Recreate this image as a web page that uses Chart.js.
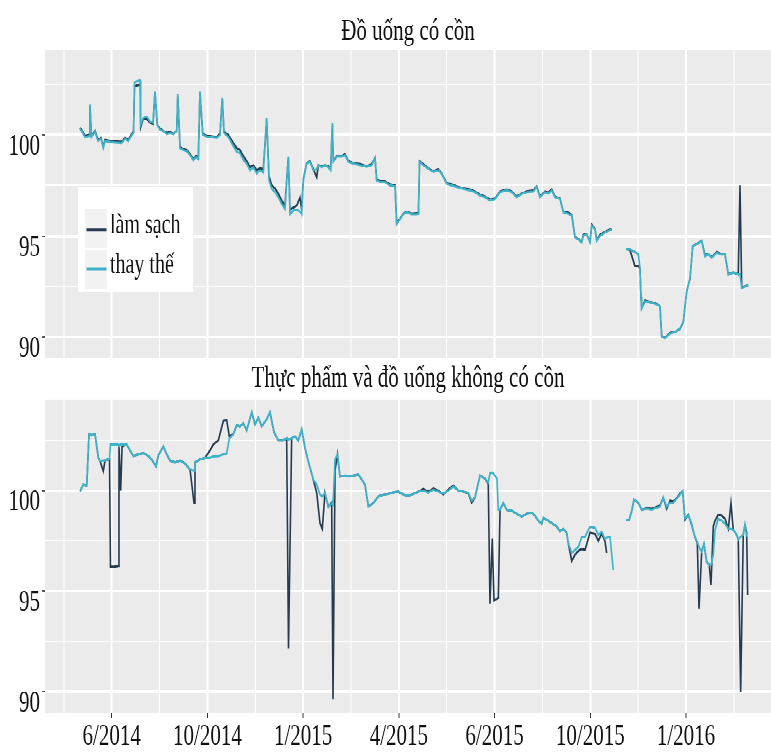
<!DOCTYPE html>
<html><head><meta charset="utf-8">
<script src="https://cdn.jsdelivr.net/npm/chart.js@4.4.1/dist/chart.umd.min.js"></script>
<style>
html,body{margin:0;padding:0;background:#fff;width:771px;height:752px;overflow:hidden;}
#page{position:relative;width:771px;height:752px;overflow:hidden;}
#stage{position:absolute;left:0;top:0;width:771px;height:530px;transform-origin:0 0;}
.panel{position:absolute;left:0;width:771px;}
</style></head><body>
<div id="page"><div id="stage">
  <div class="panel" id="p1" style="top:0;height:254px"><canvas id="c1"></canvas></div>
  <div class="panel" id="p2" style="top:254px;height:276px"><canvas id="c2"></canvas></div>
</div></div>
<script>
// ---------- data ----------
const seriesNames = ['làm sạch', 'thay thế'];
const panelTitles = ['Đồ uống có cồn', 'Thực phẩm và đồ uống không có cồn'];
const xTickLabels = ['6/2014', '10/2014', '1/2015', '4/2015', '6/2015', '10/2015', '1/2016'];
const yTicks = [90, 95, 100];

// x in units of tick intervals (0 = 6/2014, 1 = 10/2014, ...)
const topX = [-0.331,-0.310,-0.279,-0.237,-0.227,-0.211,-0.174,-0.143,-0.112,-0.088,-0.070,-0.018,0.034,0.104,0.139,0.173,0.209,0.228,0.238,0.296,0.303,0.330,0.366,0.400,0.431,0.452,0.476,0.505,0.539,0.575,0.609,0.644,0.679,0.690,0.714,0.748,0.784,0.818,0.852,0.881,0.905,0.922,0.951,0.992,1.027,1.097,1.131,1.155,1.173,1.218,1.270,1.306,1.340,1.375,1.410,1.445,1.479,1.515,1.549,1.584,1.619,1.643,1.672,1.706,1.740,1.776,1.810,1.845,1.863,1.897,1.933,1.967,1.985,2.002,2.037,2.072,2.106,2.142,2.158,2.194,2.228,2.263,2.288,2.305,2.315,2.351,2.403,2.437,2.472,2.524,2.594,2.664,2.716,2.751,2.768,2.803,2.855,2.907,2.960,2.977,3.012,3.046,3.082,3.134,3.186,3.205,3.216,3.255,3.308,3.360,3.412,3.447,3.500,3.552,3.604,3.673,3.743,3.795,3.848,3.900,3.952,4.004,4.057,4.127,4.179,4.231,4.283,4.336,4.405,4.440,4.474,4.527,4.561,4.597,4.631,4.683,4.718,4.770,4.806,4.840,4.875,4.910,4.927,4.962,4.997,5.015,5.049,5.067,5.101,5.153,5.224,5.300,5.373,5.415,5.467,5.501,5.519,5.530,5.537,5.571,5.606,5.658,5.710,5.728,5.746,5.780,5.833,5.885,5.937,5.972,6.007,6.042,6.070,6.111,6.164,6.198,6.233,6.268,6.321,6.373,6.407,6.442,6.494,6.546,6.564,6.582,6.616,6.651];
const topClean = [100.35,100.2,99.95,100.0,101.4,99.95,100.2,99.75,99.85,99.4,99.75,99.7,99.68,99.65,99.85,99.75,100.05,100.15,102.4,102.5,100.4,100.8,100.8,100.6,100.55,102.1,100.5,100.3,100.2,100.1,100.15,100.05,100.2,101.95,99.4,99.3,99.25,99.05,98.8,98.95,98.85,102.1,100.05,99.95,99.95,99.9,100.05,101.8,100.15,100.0,99.6,99.35,99.25,98.95,98.7,98.4,98.5,98.25,98.35,98.3,100.8,97.95,97.5,97.35,97.1,96.75,96.5,98.9,96.3,96.4,96.5,96.9,96.3,97.8,98.6,98.7,98.3,97.9,98.5,98.45,98.5,98.45,98.3,100.55,98.7,98.95,98.95,99.05,98.7,98.6,98.55,98.45,98.55,98.85,97.8,97.7,97.7,97.55,97.5,95.65,95.85,96.1,96.2,96.1,96.12,96.12,98.7,98.55,98.35,98.2,98.3,98.1,97.6,97.55,97.45,97.35,97.3,97.2,97.05,96.95,96.8,96.85,97.2,97.3,97.2,96.95,97.1,97.2,97.25,97.45,96.95,97.2,97.15,97.3,96.95,96.85,96.2,96.15,96.05,94.95,94.85,94.7,95.05,95.1,94.7,95.55,95.35,94.8,95.05,95.2,95.35,null,94.35,94.3,93.5,93.5,93.4,91.95,91.45,91.8,91.75,91.7,91.6,91.5,90.05,89.95,90.2,90.25,90.4,90.75,92.25,92.9,94.5,94.6,94.75,94.05,94.1,93.95,94.2,94.1,94.1,93.1,93.2,93.1,97.5,92.45,92.5,92.55];
const topAlt = [100.3,100.15,99.9,99.95,101.5,99.9,100.15,99.7,99.8,99.35,99.7,99.65,99.62,99.6,99.8,99.7,100.0,100.1,102.6,102.7,100.5,100.83,100.9,100.67,100.6,102.17,100.5,100.25,100.2,100.05,100.1,100.05,100.2,102.0,99.33,99.25,99.2,99.0,98.75,98.9,98.8,102.17,100.0,99.92,99.9,99.85,100.0,101.83,100.1,99.9,99.45,99.17,99.1,98.75,98.58,98.25,98.4,98.1,98.25,98.15,100.83,97.75,97.33,97.17,96.92,96.58,96.33,98.92,96.08,96.25,96.3,96.2,96.1,97.75,98.58,98.67,98.25,98.3,98.5,98.4,98.5,98.4,98.25,100.58,98.67,98.92,98.92,99.0,98.67,98.58,98.5,98.42,98.5,98.83,97.75,97.67,97.67,97.5,97.45,95.58,95.83,96.08,96.17,96.08,96.08,96.1,98.67,98.5,98.33,98.17,98.25,98.08,97.58,97.5,97.42,97.33,97.25,97.17,97.0,96.92,96.75,96.83,97.17,97.25,97.17,96.92,97.08,97.17,97.2,97.42,96.92,97.17,97.1,97.25,96.92,96.83,96.17,96.1,96.0,94.92,94.83,94.67,95.0,95.08,94.67,95.5,95.33,94.75,95.0,95.17,95.33,null,94.33,94.33,94.2,94.1,93.42,91.92,91.4,91.75,91.75,91.67,91.58,91.5,90.0,89.95,90.17,90.25,90.4,90.75,92.25,92.92,94.5,94.58,94.75,94.0,94.1,93.92,94.17,94.08,94.1,93.08,93.2,93.1,93.1,92.42,92.5,92.55];

const bottomX = [-0.331,-0.297,-0.261,-0.237,-0.209,-0.174,-0.140,-0.122,-0.088,-0.070,-0.036,-0.023,-0.013,0.017,0.066,0.076,0.094,0.108,0.157,0.191,0.226,0.278,0.330,0.382,0.418,0.463,0.487,0.539,0.575,0.609,0.661,0.714,0.766,0.818,0.860,0.870,0.922,0.975,1.027,1.061,1.114,1.166,1.201,1.229,1.270,1.306,1.340,1.375,1.410,1.463,1.497,1.532,1.567,1.619,1.654,1.696,1.740,1.793,1.828,1.847,1.880,1.915,1.949,1.985,2.019,2.054,2.106,2.142,2.176,2.200,2.228,2.263,2.298,2.312,2.333,2.359,2.385,2.437,2.490,2.524,2.576,2.612,2.646,2.681,2.733,2.785,2.837,2.890,2.942,2.994,3.046,3.099,3.151,3.203,3.255,3.308,3.360,3.412,3.464,3.516,3.569,3.621,3.673,3.725,3.761,3.795,3.848,3.900,3.934,3.952,3.976,3.994,4.025,4.039,4.057,4.091,4.127,4.179,4.231,4.283,4.336,4.388,4.422,4.457,4.492,4.509,4.544,4.597,4.649,4.683,4.718,4.753,4.770,4.806,4.840,4.875,4.910,4.945,4.997,5.049,5.084,5.119,5.153,5.171,5.206,5.240,5.300,5.373,5.407,5.432,5.456,5.501,5.537,5.589,5.641,5.694,5.728,5.762,5.798,5.833,5.867,5.903,5.937,5.965,5.989,6.024,6.059,6.094,6.118,6.136,6.164,6.188,6.216,6.243,6.261,6.285,6.303,6.337,6.373,6.407,6.442,6.470,6.494,6.529,6.546,6.571,6.598,6.616,6.634,6.644];
const bottomClean = [99.97,100.3,100.25,102.8,102.75,102.8,101.63,101.47,100.97,101.5,101.55,101.6,96.22,96.2,96.25,102.2,100.0,102.2,102.3,102.0,101.72,101.8,101.88,101.72,101.55,101.2,101.75,102.2,101.8,101.5,101.4,101.5,101.35,101.05,99.38,101.4,101.55,101.63,102.0,102.3,102.5,103.47,103.5,102.7,102.8,103.25,103.2,103.35,103.0,103.9,103.3,103.63,103.2,103.55,103.9,102.9,102.5,102.5,102.6,92.13,102.6,102.7,102.5,103.05,102.13,101.45,100.55,99.88,98.38,98.1,99.88,99.2,99.4,89.63,101.0,101.8,100.7,100.75,100.7,100.75,100.8,100.55,100.3,99.22,99.38,99.7,99.8,99.83,99.92,99.95,99.8,99.75,99.83,99.95,100.08,99.95,100.1,100.0,99.8,100.05,100.25,100.0,99.95,99.88,99.4,99.65,100.75,100.6,100.35,94.38,97.6,94.55,94.6,94.65,99.05,99.38,99.05,99.0,98.85,98.7,98.85,98.9,98.75,98.5,98.35,98.63,98.55,98.38,98.22,97.98,98.1,97.9,97.38,96.5,96.8,97.0,97.1,97.05,97.9,97.85,97.5,97.85,97.5,96.9,null,null,null,98.55,98.55,98.97,99.55,99.4,99.05,99.12,99.1,99.2,99.25,99.65,99.1,99.5,99.45,99.62,99.85,99.98,98.55,98.8,98.3,97.68,97.4,94.13,96.95,97.35,96.45,96.3,95.3,98.22,98.5,98.8,98.75,98.6,98.1,99.38,98.05,97.8,97.55,89.97,97.8,98.3,97.9,94.8];
const bottomAlt = [99.97,100.3,100.25,102.8,102.75,102.8,101.63,101.47,101.5,101.5,101.55,101.6,102.3,102.3,102.3,102.25,102.3,102.3,102.3,102.0,101.72,101.8,101.88,101.72,101.55,101.2,101.75,102.2,101.8,101.5,101.4,101.5,101.35,101.05,101.0,101.4,101.55,101.63,101.63,101.7,101.72,101.8,101.85,102.6,102.8,103.25,103.2,103.35,103.0,103.9,103.3,103.63,103.2,103.55,103.9,102.9,102.5,102.5,102.6,102.55,102.6,102.7,102.5,103.05,102.13,101.45,100.55,100.3,99.8,99.7,99.88,99.2,99.35,99.3,101.55,101.8,100.7,100.75,100.7,100.75,100.8,100.55,100.3,99.22,99.38,99.7,99.8,99.83,99.92,99.95,99.8,99.75,99.83,99.95,100.0,99.9,100.05,99.95,99.85,100.0,100.2,100.0,99.95,99.9,99.5,99.65,100.75,100.6,100.4,100.85,100.9,100.8,100.6,99.05,99.05,99.38,99.05,99.0,98.85,98.7,98.85,98.9,98.75,98.5,98.35,98.63,98.55,98.38,98.22,97.98,98.1,97.9,97.38,96.9,97.05,97.2,97.67,97.7,98.2,98.15,97.8,97.95,97.6,97.65,97.7,96.05,null,98.55,98.55,98.97,99.55,99.4,99.05,99.1,99.05,99.15,99.2,99.65,99.2,99.4,99.4,99.6,99.8,99.98,98.6,98.8,98.35,97.7,97.45,97.2,96.95,97.35,96.45,96.3,96.3,96.8,98.05,98.6,98.5,98.35,98.1,98.1,98.05,97.8,97.55,97.7,97.8,98.3,97.7,null];

// ---------- presentation ----------
const PAGE_H = 752, STAGE_H = 530, S = PAGE_H / STAGE_H; // reference is vertically stretched
document.getElementById('stage').style.transform = 'scaleY(' + S + ')';
const u = v => v / S; // page px -> stage px
const FONT = "'Liberation Serif','Times New Roman',serif";
const DARK = '#243b50', TEAL = '#3eb3c8';
const X_MIN = -0.697, X_MAX = 6.888;

const panelBg = {
  id: 'panelBg',
  beforeDraw(chart) {
    const { ctx, chartArea: a } = chart;
    ctx.save(); ctx.fillStyle = '#EBEBEB';
    ctx.fillRect(a.left, a.top, a.right - a.left, a.bottom - a.top);
    ctx.restore();
  }
};
const panelTitle = {
  id: 'panelTitle',
  afterDraw(chart, args, opts) {
    const { ctx, chartArea: a } = chart;
    ctx.save();
    ctx.font = '21px ' + FONT; ctx.fillStyle = '#111';
    ctx.textAlign = 'center'; ctx.textBaseline = 'middle';
    ctx.fillText(opts.text, (a.left + a.right) / 2, opts.y);
    ctx.restore();
  }
};
const innerLegend = {
  id: 'innerLegend',
  afterDatasetsDraw(chart, args, opts) {
    if (!opts.show) return;
    const ctx = chart.ctx;
    const items = chart.data.datasets.slice().sort((a, b) => a.legendIndex - b.legendIndex);
    ctx.save();
    ctx.fillStyle = '#ffffff';
    ctx.fillRect(78, u(187), 115, u(105));
    items.forEach((d, i) => {
      ctx.fillStyle = '#F2F2F2';
      ctx.fillRect(85, u(208.5 + i * 42), 22, u(39));
      ctx.strokeStyle = d.borderColor; ctx.lineWidth = 2;
      ctx.beginPath();
      const ly = u(230 + i * 39.3);
      ctx.moveTo(86.5, ly); ctx.lineTo(106.5, ly); ctx.stroke();
      ctx.fillStyle = '#111'; ctx.font = '20px ' + FONT;
      ctx.textAlign = 'left'; ctx.textBaseline = 'alphabetic';
      ctx.fillText(d.label, 110, u(233.5 + i * 39.3));
    });
    ctx.restore();
  }
};

function isMajorX(v) { return Math.abs(v - Math.round(v)) < 1e-6; }
function xScale(showLabels, height) {
  return {
    type: 'linear', min: X_MIN, max: X_MAX,
    afterBuildTicks(s) { const t = []; for (let i = -1; i <= 13; i++) t.push({ value: i * 0.5 }); s.ticks = t; },
    afterFit(s) { s.height = height; s.paddingLeft = 0; s.paddingRight = 0; },
    border: { display: false },
    grid: {
      color: '#ffffff',
      lineWidth: c => isMajorX(c.tick.value) ? 2 : 1,
      drawTicks: showLabels, tickLength: u(5), tickWidth: 1,
      tickColor: c => isMajorX(c.tick.value) ? '#333333' : 'rgba(0,0,0,0)'
    },
    ticks: {
      display: showLabels, autoSkip: false, maxRotation: 0, minRotation: 0, padding: 1,
      color: '#111', font: { family: FONT, size: 21 },
      callback: v => isMajorX(v) ? xTickLabels[Math.round(v)] : ''
    }
  };
}
function yScale(min, max) {
  return {
    type: 'linear', min, max,
    afterBuildTicks(s) { const t = []; yTicks.forEach(v => { t.push({ value: v }); t.push({ value: v + 2.5 }); }); s.ticks = t; },
    afterFit(s) { s.width = 45; s.paddingTop = 0; s.paddingBottom = 0; },
    border: { display: false },
    grid: {
      color: '#ffffff',
      lineWidth: c => yTicks.includes(c.tick.value) ? 2 : 1,
      drawTicks: true, tickLength: 3, tickWidth: 1,
      tickColor: c => yTicks.includes(c.tick.value) ? '#555555' : 'rgba(0,0,0,0)'
    },
    ticks: {
      autoSkip: false, padding: 2, labelOffset: u(12),
      color: '#111', font: { family: FONT, size: 21 },
      callback: v => yTicks.includes(v) ? String(v) : ''
    }
  };
}
function series(label, xs, ys, color, order, legendIndex) {
  return {
    label, legendIndex, order,
    data: xs.map((x, i) => ({ x, y: ys[i] })),
    borderColor: color, backgroundColor: color, borderWidth: 1.6,
    pointRadius: 0, tension: 0, spanGaps: false, fill: false
  };
}
function makeChart(id, h, xs, clean, alt, cfg) {
  const canvas = document.getElementById(id);
  canvas.width = 771; canvas.height = h;
  return new Chart(canvas, {
    type: 'line',
    data: { datasets: [
      series(seriesNames[0], xs, clean, DARK, 2, 0),
      series(seriesNames[1], xs, alt, TEAL, 1, 1)
    ] },
    options: {
      responsive: false, animation: false, devicePixelRatio: 2,
      layout: { padding: { top: cfg.padTop, bottom: cfg.padBottom, left: 0, right: 0 } },
      scales: { x: xScale(cfg.showX, cfg.xHeight), y: yScale(cfg.yMin, cfg.yMax) },
      plugins: {
        legend: { display: false }, tooltip: { enabled: false },
        panelTitle: { text: cfg.title, y: cfg.titleY },
        innerLegend: { show: cfg.legend }
      }
    },
    plugins: [panelBg, panelTitle, innerLegend]
  });
}

makeChart('c1', 254, topX, topClean, topAlt, {
  padTop: u(50), padBottom: 254 - u(358), showX: false, xHeight: 0,
  yMin: 88.96, yMax: 104.2, title: panelTitles[0], titleY: u(32), legend: true
});
makeChart('c2', 276, bottomX, bottomClean, bottomAlt, {
  padTop: u(400) - 254, padBottom: 0, showX: true, xHeight: 276 - (u(713) - 254),
  yMin: 88.93, yMax: 104.51, title: panelTitles[1], titleY: u(379) - 254, legend: false
});
</script>
</body></html>
